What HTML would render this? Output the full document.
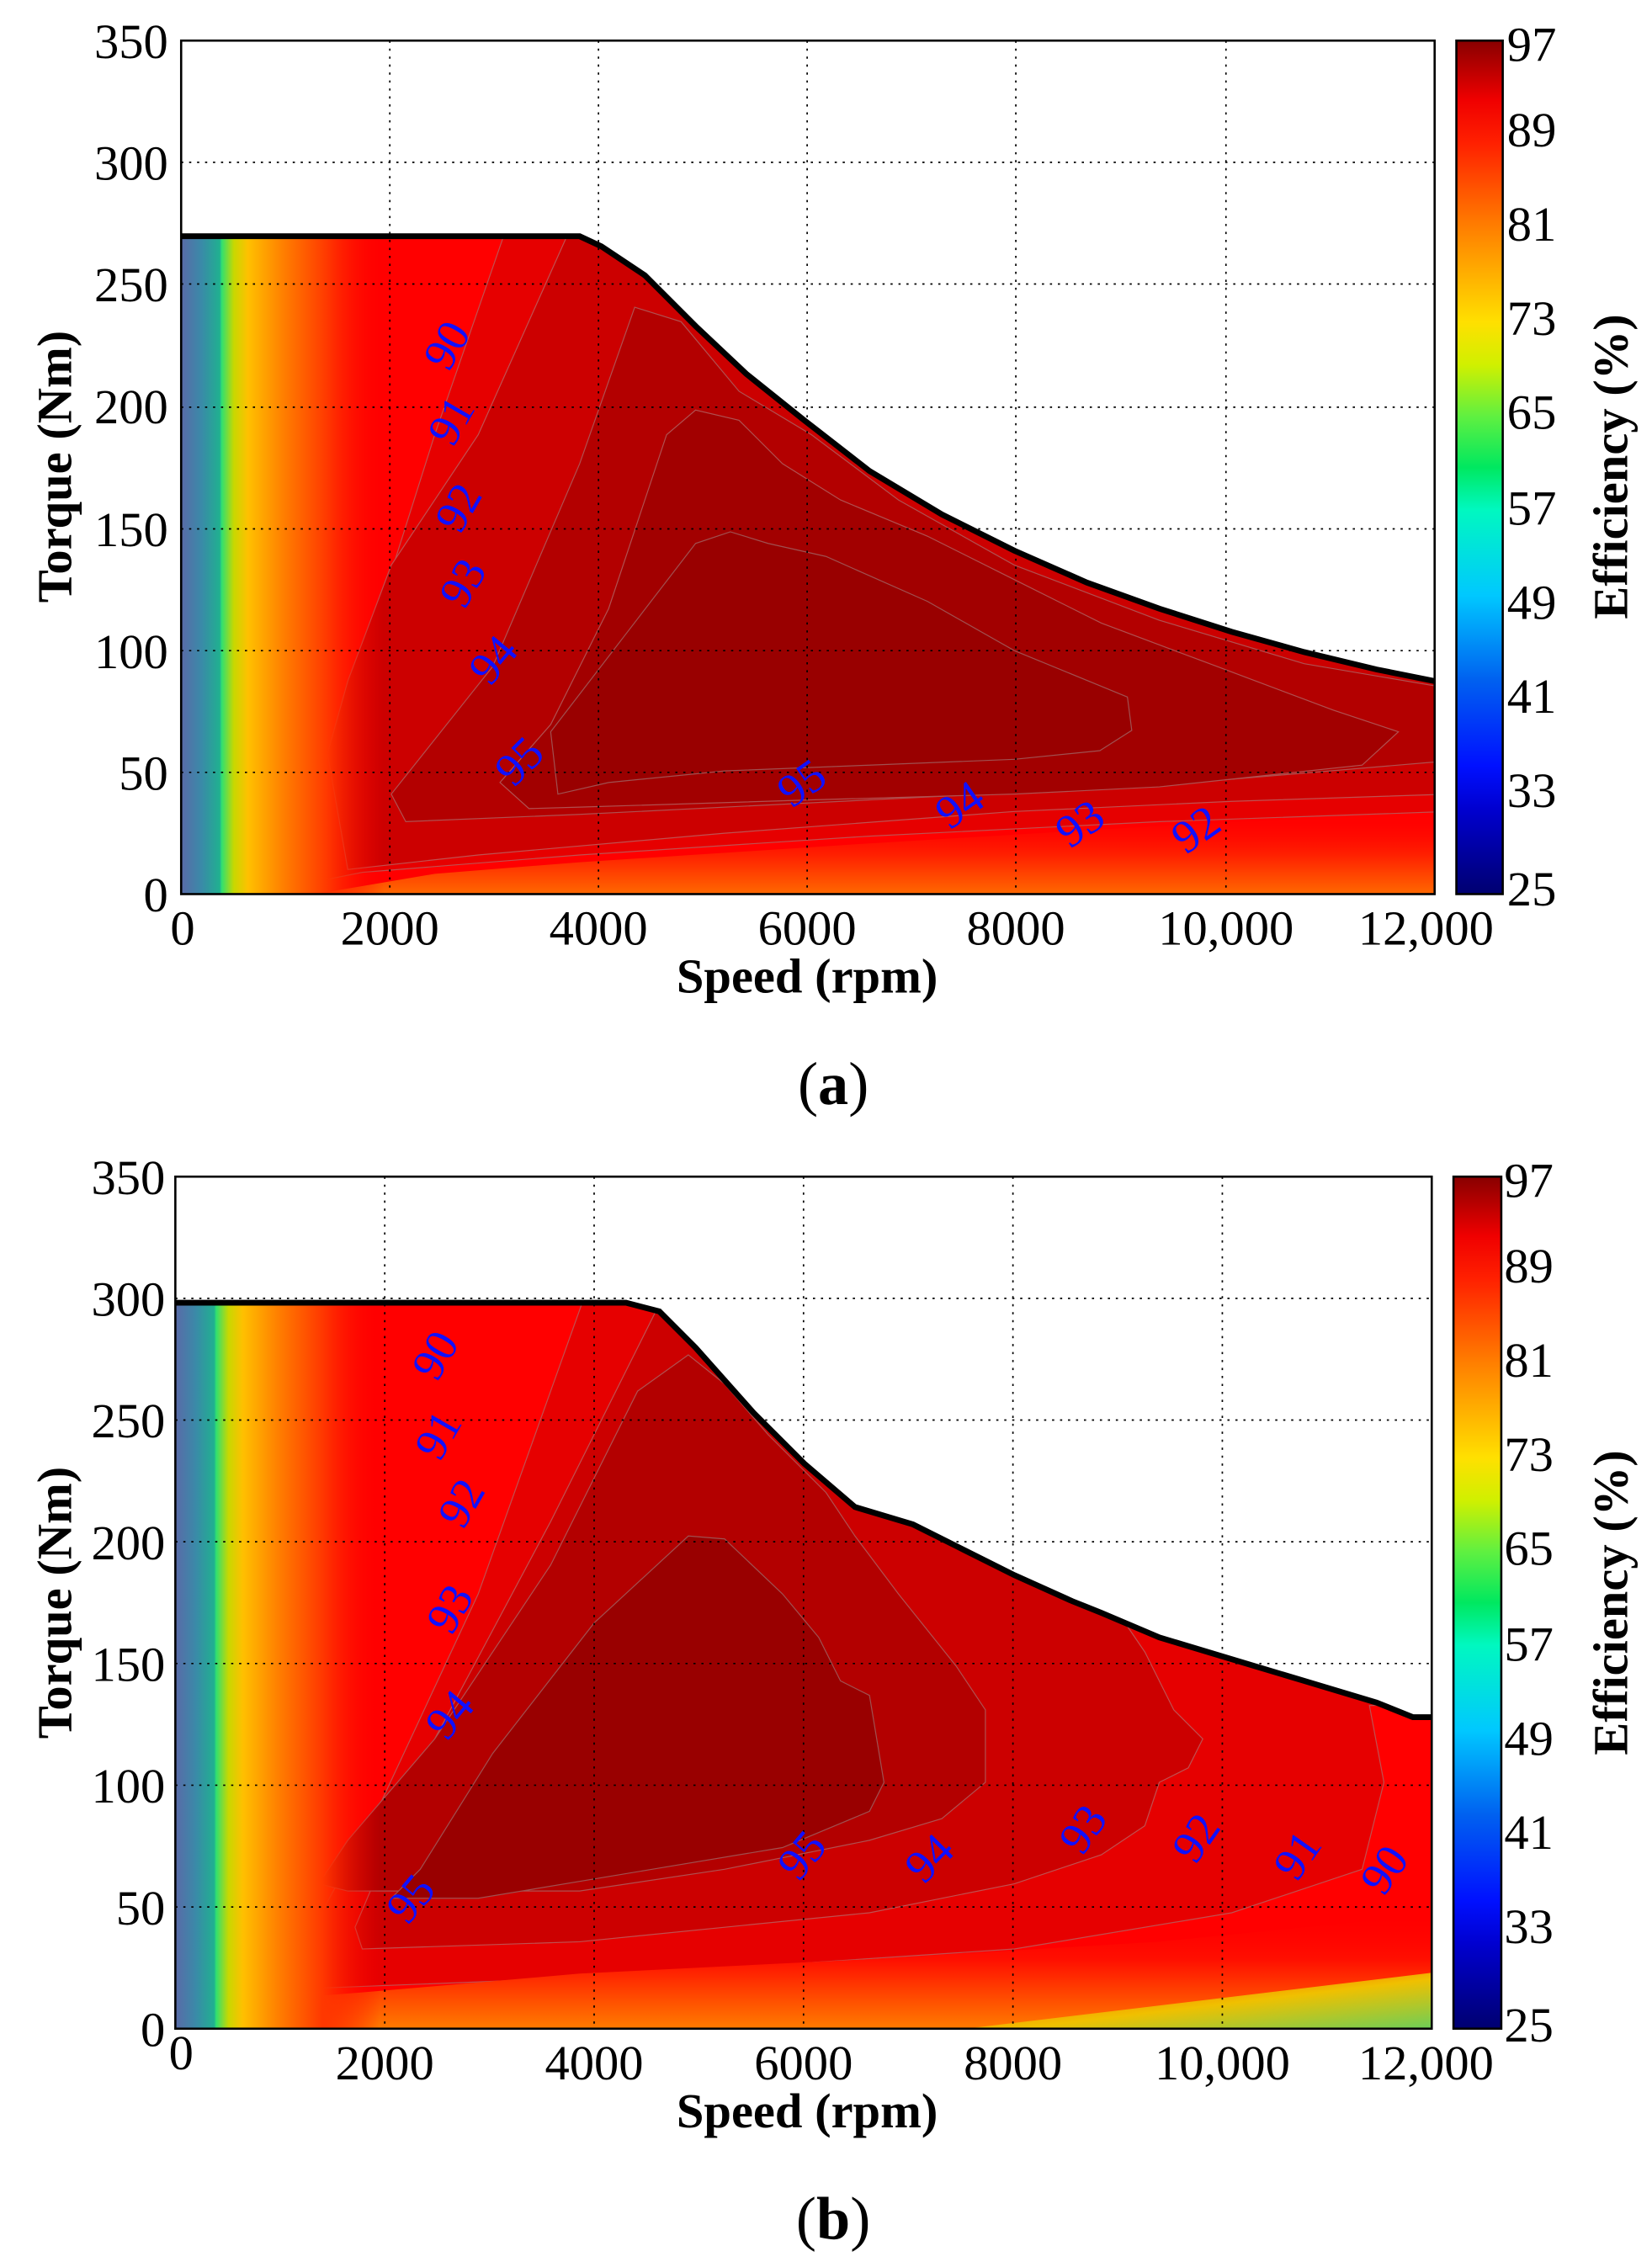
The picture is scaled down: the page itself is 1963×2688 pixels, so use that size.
<!DOCTYPE html>
<html><head><meta charset="utf-8"><style>html,body{margin:0;padding:0;background:#fff}svg{display:block}svg text{font-family:"Liberation Serif","Times New Roman",serif}</style></head><body>
<svg width="1963" height="2688" viewBox="0 0 1140 1561" xmlns="http://www.w3.org/2000/svg" font-family="'Liberation Serif', 'Times New Roman', serif">
<defs>
<linearGradient id="cb" x1="0" y1="1" x2="0" y2="0">
<stop offset="0" stop-color="#000070"/><stop offset="0.1" stop-color="#0000d0"/><stop offset="0.15" stop-color="#0010ff"/><stop offset="0.25" stop-color="#0060f0"/><stop offset="0.35" stop-color="#00c8ff"/><stop offset="0.45" stop-color="#00f8c0"/><stop offset="0.5" stop-color="#00e860"/><stop offset="0.56" stop-color="#60f040"/><stop offset="0.62" stop-color="#d0f000"/><stop offset="0.67" stop-color="#ffe000"/><stop offset="0.78" stop-color="#ff8000"/><stop offset="0.88" stop-color="#ff2000"/><stop offset="0.93" stop-color="#f00000"/><stop offset="1" stop-color="#880000"/>
</linearGradient>
<linearGradient id="leftA" x1="125" y1="0" x2="265" y2="0" gradientUnits="userSpaceOnUse">
<stop offset="0" stop-color="#5a6aa8"/><stop offset="0.1" stop-color="#3a8aa8"/><stop offset="0.19" stop-color="#20b090"/><stop offset="0.2" stop-color="#30e070"/><stop offset="0.26" stop-color="#c8d800"/><stop offset="0.33" stop-color="#ffc000"/><stop offset="0.5" stop-color="#ff8000"/><stop offset="0.72" stop-color="#ff3800"/><stop offset="1" stop-color="#ff0000" stop-opacity="0"/>
</linearGradient>
<linearGradient id="leftB" x1="121" y1="0" x2="262" y2="0" gradientUnits="userSpaceOnUse">
<stop offset="0" stop-color="#5a6aa8"/><stop offset="0.1" stop-color="#3a8aa8"/><stop offset="0.19" stop-color="#20b090"/><stop offset="0.2" stop-color="#30e070"/><stop offset="0.26" stop-color="#c8d800"/><stop offset="0.33" stop-color="#ffc000"/><stop offset="0.5" stop-color="#ff8000"/><stop offset="0.72" stop-color="#ff3800"/><stop offset="1" stop-color="#ff0000" stop-opacity="0"/>
</linearGradient>
<linearGradient id="botA" x1="0" y1="0" x2="0" y2="1">
<stop offset="0" stop-color="#ff0000" stop-opacity="0"/><stop offset="0.5" stop-color="#ff2000"/><stop offset="1" stop-color="#ff7000"/>
</linearGradient>
<linearGradient id="botB" x1="0" y1="0" x2="0" y2="1">
<stop offset="0" stop-color="#ff0000" stop-opacity="0"/><stop offset="0.4" stop-color="#ff1000"/><stop offset="1" stop-color="#ff8000"/>
</linearGradient>
<linearGradient id="botB2" x1="0" y1="0" x2="1" y2="1">
<stop offset="0" stop-color="#ff8000" stop-opacity="0"/><stop offset="0.55" stop-color="#f0c000"/><stop offset="1" stop-color="#60d060"/>
</linearGradient>
<clipPath id="ca"><polygon points="125,617 125,163 400,163 415,170 445,190 480,225 515,258 555,290 600,325 650,355 700,380 750,402 800,420 850,436 900,450 950,462 990,470 990,617"/></clipPath>
<clipPath id="cbp"><polygon points="121,1400 121,899 432,899 455,905 480,930 520,975 555,1010 590,1040 630,1052 660,1067 700,1087 740,1105 760,1113 800,1130 850,1145 900,1160 950,1175 975,1185 988,1185 988,1400"/></clipPath>
</defs>

<!-- Panel A -->
<g clip-path="url(#ca)">
<rect x="125" y="150" width="870" height="470" fill="#ff0000"/>
<polygon fill="#e60000" stroke="#c05050" stroke-width="0.7" points="352,150 1000,150 1000,560 800,567 600,577 400,590 250,602 200,612 220,540 262,420 300,300"/>
<polygon fill="#cc0000" stroke="#c05050" stroke-width="0.7" points="397,150 1000,150 1000,548 850,553 700,560 500,575 330,590 240,600 226,520 240,470 270,390 330,300"/>
<polygon fill="#b30000" stroke="#b05050" stroke-width="0.7" points="438,212 470,222 510,270 560,300 620,345 700,390 800,428 900,458 1000,475 1000,525 800,542 600,552 400,562 280,567 270,548 340,460 400,320"/>
<polygon fill="#a20000" stroke="#b05050" stroke-width="0.7" points="345,540 380,500 420,420 460,300 480,283 510,290 540,320 580,345 640,370 700,400 760,430 840,460 920,490 965,505 940,528 800,543 700,548 560,552 400,557 365,558"/>
<polygon fill="#990000" stroke="#a05050" stroke-width="0.7" points="380,505 430,440 480,375 504,367 530,375 570,384 640,415 700,449 778,481 781,504 759,518 700,524 600,528 500,532 420,540 385,548"/>
<polygon fill="url(#botA)" points="200,620 1000,620 1000,560 800,570 600,582 400,595 300,603"/>
<rect x="125" y="150" width="140" height="470" fill="url(#leftA)"/>
</g>
<g stroke="#000" stroke-width="1" stroke-dasharray="1.5,4">
<line x1="269" y1="28" x2="269" y2="617"/><line x1="413" y1="28" x2="413" y2="617"/><line x1="557" y1="28" x2="557" y2="617"/><line x1="701" y1="28" x2="701" y2="617"/><line x1="846" y1="28" x2="846" y2="617"/>
<line x1="125" y1="533" x2="990" y2="533"/><line x1="125" y1="449" x2="990" y2="449"/><line x1="125" y1="365" x2="990" y2="365"/><line x1="125" y1="281" x2="990" y2="281"/><line x1="125" y1="196" x2="990" y2="196"/><line x1="125" y1="112" x2="990" y2="112"/>
</g>
<polyline fill="none" stroke="#000" stroke-width="4" points="125,163 400,163 415,170 445,190 480,225 515,258 555,290 600,325 650,355 700,380 750,402 800,420 850,436 900,450 950,462 990,470"/>
<rect x="125" y="28" width="865" height="589" fill="none" stroke="#000" stroke-width="1.5"/>
<g fill="#1010ff" font-size="32">
<text transform="translate(308,238) rotate(-60)" text-anchor="middle" dy="11">90</text>
<text transform="translate(311,290) rotate(-60)" text-anchor="middle" dy="11">91</text>
<text transform="translate(316,350) rotate(-60)" text-anchor="middle" dy="11">92</text>
<text transform="translate(319,402) rotate(-60)" text-anchor="middle" dy="11">93</text>
<text transform="translate(340,455) rotate(-50)" text-anchor="middle" dy="11">94</text>
<text transform="translate(358,525) rotate(-45)" text-anchor="middle" dy="11">95</text>
<text transform="translate(553,540) rotate(-35)" text-anchor="middle" dy="11">95</text>
<text transform="translate(662,555) rotate(-35)" text-anchor="middle" dy="11">94</text>
<text transform="translate(745,568) rotate(-35)" text-anchor="middle" dy="11">93</text>
<text transform="translate(825,572) rotate(-35)" text-anchor="middle" dy="11">92</text>
</g>
<g font-size="34" text-anchor="end">
<text x="116" y="40">350</text><text x="116" y="124">300</text><text x="116" y="208">250</text><text x="116" y="292">200</text><text x="116" y="377">150</text><text x="116" y="461">100</text><text x="116" y="545">50</text><text x="116" y="629">0</text>
</g>
<g font-size="34" text-anchor="middle">
<text x="126" y="652">0</text><text x="269" y="652">2000</text><text x="413" y="652">4000</text><text x="557" y="652">6000</text><text x="701" y="652">8000</text><text x="846" y="652">10,000</text><text x="984" y="652">12,000</text>
</g>
<text x="557" y="685" font-size="34" font-weight="bold" text-anchor="middle">Speed (rpm)</text>
<text transform="translate(38,322) rotate(-90)" font-size="34" font-weight="bold" text-anchor="middle" dy="11">Torque (Nm)</text>
<rect x="1005" y="28" width="32" height="589" fill="url(#cb)" stroke="#000" stroke-width="1.5"/>
<g font-size="34"><text x="1040" y="42">97</text><text x="1040" y="101">89</text><text x="1040" y="166">81</text><text x="1040" y="231">73</text><text x="1040" y="296">65</text><text x="1040" y="362">57</text><text x="1040" y="427">49</text><text x="1040" y="492">41</text><text x="1040" y="557">33</text><text x="1040" y="625">25</text></g>
<text transform="translate(1112,322) rotate(-90)" font-size="34" font-weight="bold" text-anchor="middle" dy="11">Efficiency (%)</text>
<text x="575" y="762" font-size="42" text-anchor="middle">(<tspan font-weight="bold">a</tspan>)</text>

<!-- Panel B -->
<g clip-path="url(#cbp)">
<rect x="121" y="890" width="870" height="512" fill="#ff0000"/>
<polygon fill="#e60000" stroke="#c05050" stroke-width="0.7" points="405,890 1000,890 1000,1175 945,1177 955,1230 940,1290 850,1320 700,1345 400,1365 220,1372 200,1360 260,1250 330,1100"/>
<polygon fill="#cc0000" stroke="#c05050" stroke-width="0.7" points="460,890 770,890 775,1118 790,1140 810,1180 830,1200 820,1220 800,1230 790,1260 760,1280 700,1300 600,1320 400,1340 250,1345 245,1330 300,1200 380,1050"/>
<polygon fill="#b30000" stroke="#b05050" stroke-width="0.7" points="475,935 500,955 530,990 570,1030 590,1060 620,1100 660,1150 680,1180 680,1230 650,1255 600,1270 500,1290 400,1305 240,1305 220,1300 240,1270 300,1200 380,1080 440,960"/>
<polygon fill="#990000" stroke="#a05050" stroke-width="0.7" points="475,1060 500,1062 540,1100 565,1130 580,1160 600,1170 610,1230 600,1250 540,1275 450,1290 330,1310 270,1310 290,1290 340,1210 410,1120"/>
<polygon fill="url(#botB)" points="121,1402 1000,1402 1000,1320 800,1340 600,1352 400,1362 250,1375 121,1385"/>
<polygon fill="url(#botB2)" points="650,1402 1000,1402 1000,1360 850,1378"/>
<rect x="121" y="890" width="141" height="512" fill="url(#leftB)"/>
</g>
<g stroke="#000" stroke-width="1" stroke-dasharray="1.5,4">
<line x1="265.5" y1="812" x2="265.5" y2="1400"/><line x1="410" y1="812" x2="410" y2="1400"/><line x1="554.5" y1="812" x2="554.5" y2="1400"/><line x1="699" y1="812" x2="699" y2="1400"/><line x1="843.5" y1="812" x2="843.5" y2="1400"/>
<line x1="121" y1="1316" x2="988" y2="1316"/><line x1="121" y1="1232" x2="988" y2="1232"/><line x1="121" y1="1148" x2="988" y2="1148"/><line x1="121" y1="1064" x2="988" y2="1064"/><line x1="121" y1="980" x2="988" y2="980"/><line x1="121" y1="896" x2="988" y2="896"/>
</g>
<polyline fill="none" stroke="#000" stroke-width="4" points="121,899 432,899 455,905 480,930 520,975 555,1010 590,1040 630,1052 660,1067 700,1087 740,1105 760,1113 800,1130 850,1145 900,1160 950,1175 975,1185 988,1185"/>
<rect x="121" y="812" width="867" height="588" fill="none" stroke="#000" stroke-width="1.5"/>
<g fill="#1010ff" font-size="32">
<text transform="translate(300,935) rotate(-60)" text-anchor="middle" dy="11">90</text>
<text transform="translate(302,990) rotate(-60)" text-anchor="middle" dy="11">91</text>
<text transform="translate(318,1037) rotate(-60)" text-anchor="middle" dy="11">92</text>
<text transform="translate(310,1110) rotate(-60)" text-anchor="middle" dy="11">93</text>
<text transform="translate(310,1183) rotate(-50)" text-anchor="middle" dy="11">94</text>
<text transform="translate(283,1310) rotate(-50)" text-anchor="middle" dy="11">95</text>
<text transform="translate(553,1280) rotate(-50)" text-anchor="middle" dy="11">95</text>
<text transform="translate(641,1282) rotate(-45)" text-anchor="middle" dy="11">94</text>
<text transform="translate(747,1262) rotate(-55)" text-anchor="middle" dy="11">93</text>
<text transform="translate(825,1268) rotate(-55)" text-anchor="middle" dy="11">92</text>
<text transform="translate(895,1280) rotate(-55)" text-anchor="middle" dy="11">91</text>
<text transform="translate(955,1290) rotate(-55)" text-anchor="middle" dy="11">90</text>
</g>
<g font-size="34" text-anchor="end">
<text x="114" y="824">350</text><text x="114" y="908">300</text><text x="114" y="992">250</text><text x="114" y="1076">200</text><text x="114" y="1160">150</text><text x="114" y="1244">100</text><text x="114" y="1328">50</text><text x="114" y="1412">0</text>
</g>
<g font-size="34" text-anchor="middle">
<text x="125" y="1428">0</text><text x="265.5" y="1435">2000</text><text x="410" y="1435">4000</text><text x="554.5" y="1435">6000</text><text x="699" y="1435">8000</text><text x="843.5" y="1435">10,000</text><text x="984" y="1435">12,000</text>
</g>
<text x="557" y="1468" font-size="34" font-weight="bold" text-anchor="middle">Speed (rpm)</text>
<text transform="translate(38,1106) rotate(-90)" font-size="34" font-weight="bold" text-anchor="middle" dy="11">Torque (Nm)</text>
<rect x="1003" y="812" width="33" height="588" fill="url(#cb)" stroke="#000" stroke-width="1.5"/>
<g font-size="34"><text x="1038" y="826">97</text><text x="1038" y="885">89</text><text x="1038" y="950">81</text><text x="1038" y="1015">73</text><text x="1038" y="1080">65</text><text x="1038" y="1146">57</text><text x="1038" y="1211">49</text><text x="1038" y="1276">41</text><text x="1038" y="1341">33</text><text x="1038" y="1409">25</text></g>
<text transform="translate(1112,1106) rotate(-90)" font-size="34" font-weight="bold" text-anchor="middle" dy="11">Efficiency (%)</text>
<text x="575" y="1545" font-size="42" text-anchor="middle">(<tspan font-weight="bold">b</tspan>)</text>
</svg>
</body></html>
